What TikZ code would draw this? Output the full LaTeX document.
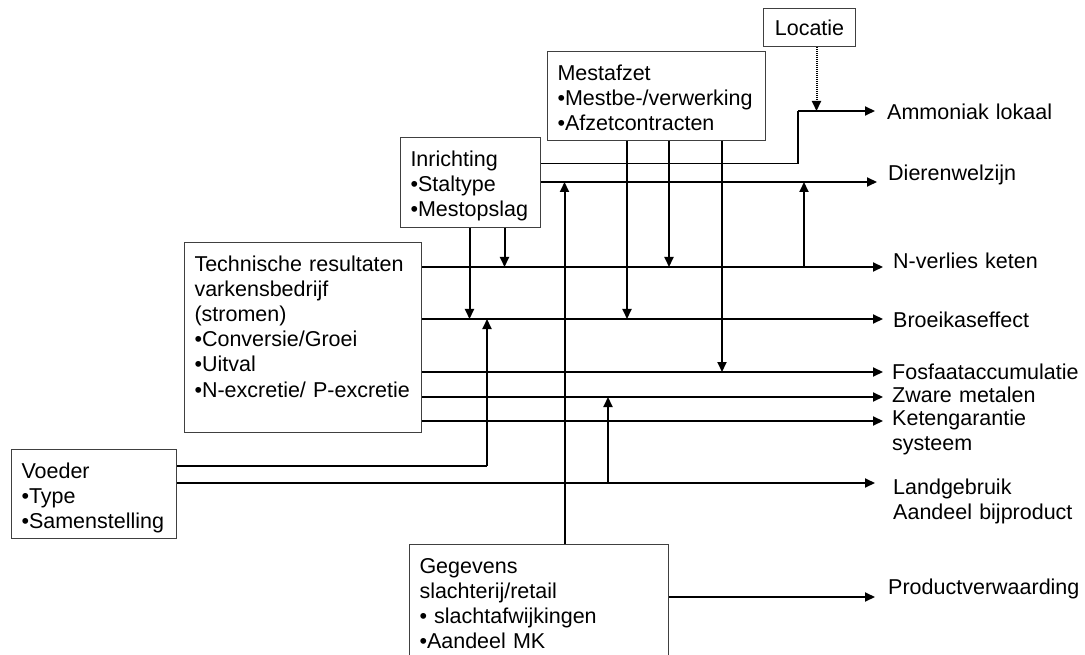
\documentclass[tikz,border=0pt]{standalone}
\usepackage{fontspec}
\setmainfont{Liberation Sans}
\usetikzlibrary{arrows.meta,positioning,calc}
\newcommand{\boxfont}{\fontsize{21.5pt}{25.2pt}\selectfont}
\tikzset{flowbox/.style={draw=black!75,line width=1pt,anchor=north west,align=left,font=\boxfont,inner xsep=10pt,inner ysep=12pt,text height=16.6pt},flowarr/.style={-{Triangle[length=10pt,width=9pt]},line width=2pt},flowthin/.style={line width=1.1pt},flowdot/.style={flowarr,dash pattern=on 1pt off 1pt,line width=2pt},flowlabel/.style={anchor=base west,align=left,font=\boxfont,inner sep=0pt,text width=200pt}}

\begin{document}
\begin{tikzpicture}[x=1pt,y=-1pt]
\useasboundingbox (0,0) rectangle (1085,655);
% input boxes
\node[flowbox,inner ysep=10pt,minimum width=92pt,minimum height=38pt,align=center] (loc) at (763,8) {Locatie};
\node[flowbox,text width=198pt,text depth=48.4pt] (mest) at (547,51) {Mestafzet\\•Mestbe-/verwerking\\•Afzetcontracten};
\node[flowbox,text width=120pt,text depth=49.4pt] (inr) at (400,137) {Inrichting\\•Staltype\\•Mestopslag};
\node[flowbox,text width=217pt,text depth=149.4pt] (tech) at (184,242) {Technische resultaten\\varkensbedrijf\\(stromen)\\•Conversie/Groei\\•Uitval\\•N-excretie/ P-excretie};
\node[flowbox,text width=145pt,text depth=48.4pt] (voe) at (11,449) {Voeder\\•Type\\•Samenstelling};
\node[flowbox,text width=239pt,text depth=100pt] (geg) at (409,544) {Gegevens\\slachterij/retail\\• slachtafwijkingen\\•Aandeel MK};
% outputs
\node[flowlabel] (ammo) at (887,119.6) {Ammoniak lokaal};
\node[flowlabel] (dier) at (888,180.6) {Dierenwelzijn};
\node[flowlabel] (nver) at (893,268.6) {N-verlies keten};
\node[flowlabel] (broe) at (893,327.6) {Broeikaseffect};
\node[flowlabel] (fosf) at (892,379.6) {Fosfaataccumulatie};
\node[flowlabel] (zwar) at (892,402.6) {Zware metalen};
\node[flowlabel] (kete) at (892,425.6) {Ketengarantie\\systeem};
\node[flowlabel] (land) at (893,494.6) {Landgebruik\\Aandeel bijproduct};
\node[flowlabel] (prod) at (888,594.6) {Productverwaarding};
% arrow ends and junctions
\coordinate (eA) at (875,111);
\coordinate (eD) at (877,182);
\coordinate (eN) at (883,267);
\coordinate (eB) at (883,319);
\coordinate (eF) at (883,372);
\coordinate (eZ) at (883,397);
\coordinate (eK) at (883,421);
\coordinate (eL) at (875,483);
\coordinate (eP) at (875,597);
\coordinate (jA) at (798,111);
\coordinate (jN) at (804,267);
\coordinate (jL) at (608,483);
\coordinate (jV) at (487,466);
% horizontal flows
\draw[flowthin] ([yshift=19pt]inr.east) -| (jA);
\draw[flowarr] (jA) -- (eA);
\draw[flowarr] (inr.east |- eD) -- (eD);
\foreach \e in {eN,eB,eF,eZ,eK} \draw[flowarr] (tech.east |- \e) -- (\e);
\draw[flowarr] (voe.east |- eL) -- (eL);
\draw[flowarr] (geg.east |- eP) -- (eP);
\draw[flowthin] (voe.east |- jV) -- (jV);
% vertical influences
\draw[flowdot] ([xshift=7pt]loc.south) -- ([xshift=7pt]loc.south |- eA);
\draw[flowarr] (jV) -- (jV |- eB);
\draw[flowarr] (jN) -- (jN |- eD);
\draw[flowarr] (jL) -- (jL |- eZ);
\draw[flowarr] ([xshift=25.5pt]geg.north) -- ([xshift=25.5pt]geg.north |- eD);
\foreach \dx/\e in {-1/eB,34/eN} \draw[flowarr] ([xshift=\dx pt]inr.south) -- ([xshift=\dx pt]inr.south |- \e);
\foreach \dx/\e in {-29.5/eB,12.5/eN,65.5/eF} \draw[flowarr] ([xshift=\dx pt]mest.south) -- ([xshift=\dx pt]mest.south |- \e);
\end{tikzpicture}
\end{document}
